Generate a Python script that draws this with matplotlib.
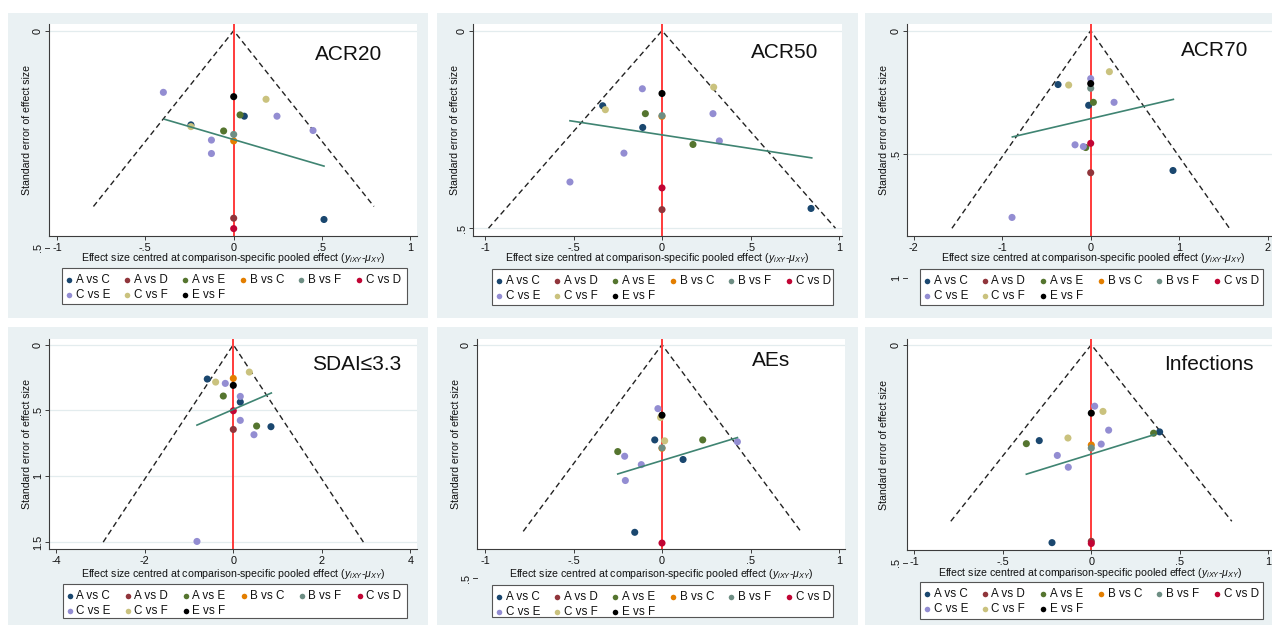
import matplotlib
matplotlib.use("Agg")
import matplotlib.pyplot as plt
from matplotlib.patches import Rectangle
from matplotlib.lines import Line2D
from matplotlib.ticker import FuncFormatter

plt.rcParams['font.family'] = ['Liberation Sans', 'DejaVu Sans']
plt.rcParams['mathtext.fontset'] = 'custom'
plt.rcParams['mathtext.rm'] = 'Liberation Sans'
plt.rcParams['mathtext.it'] = 'Liberation Sans:italic'

# comparisons and their colours (stata s2color-ish)
comparisons = ["A vs C", "A vs D", "A vs E", "B vs C", "B vs F", "C vs D", "C vs E", "C vs F", "E vs F"]
comp_colors = ["#1a476f", "#90353b", "#55752f", "#e37e00", "#6e8e84", "#c10534", "#938dd2", "#cac27e", "#000000"]

# ---- ACR20
acr20_cmp = ["C vs E", "E vs F", "C vs F", "A vs E", "A vs C", "C vs E", "A vs C", "C vs F", "A vs E",
             "C vs E", "B vs F", "B vs C", "C vs E", "C vs E", "A vs D", "C vs D", "A vs C"]
acr20_x = [-0.398, 0, 0.183, 0.036, 0.060, 0.245, -0.242, -0.242, -0.057, 0.449, 0, 0, -0.126, -0.126, 0, 0, 0.511]
acr20_se = [0.142, 0.152, 0.158, 0.194, 0.197, 0.197, 0.217, 0.221, 0.231, 0.230, 0.239, 0.254, 0.252, 0.283,
            0.432, 0.456, 0.435]
acr20_fit_x = [-0.392, 0.511]
acr20_fit_se = [0.204, 0.312]
acr20_funnel = 0.405

# ---- ACR50
acr50_cmp = ["C vs E", "C vs F", "E vs F", "A vs C", "C vs F", "A vs E", "B vs F", "B vs C", "C vs E", "A vs C",
             "C vs E", "A vs E", "C vs E", "C vs E", "C vs D", "A vs D", "A vs C"]
acr50_x = [-0.111, 0.292, 0, -0.335, -0.320, -0.094, 0, 0, 0.288, -0.109, 0.324, 0.175, -0.215, -0.520, 0, 0, 0.842]
acr50_se = [0.147, 0.143, 0.159, 0.190, 0.200, 0.210, 0.215, 0.217, 0.210, 0.245, 0.279, 0.288, 0.310, 0.383,
            0.398, 0.453, 0.450]
acr50_fit_x = [-0.520, 0.846]
acr50_fit_se = [0.228, 0.322]
acr50_funnel = 0.5

# ---- ACR70
acr70_cmp = ["C vs F", "C vs E", "A vs C", "C vs F", "E vs F", "B vs F", "A vs E", "A vs C", "C vs E", "C vs E",
             "C vs E", "A vs E", "C vs D", "A vs D", "A vs C", "C vs E"]
acr70_x = [0.211, 0, -0.369, -0.249, 0, 0, 0.03, -0.023, 0.264, -0.177, -0.083, -0.056, 0, 0, 0.930, -0.889]
acr70_se = [0.166, 0.194, 0.218, 0.220, 0.214, 0.233, 0.290, 0.302, 0.290, 0.462, 0.469, 0.473, 0.456, 0.575,
            0.566, 0.756]
acr70_fit_x = [-0.885, 0.934]
acr70_fit_se = [0.430, 0.278]
acr70_funnel = 0.8

# ---- SDAI<=3.3
sdai_cmp = ["C vs F", "B vs C", "A vs C", "C vs F", "C vs E", "E vs F", "A vs E", "C vs E", "A vs C", "C vs D",
            "C vs E", "A vs E", "A vs C", "A vs D", "C vs E", "C vs E"]
sdai_x = [0.362, 0, -0.588, -0.399, -0.181, 0, -0.226, 0.158, 0.158, 0, 0.158, 0.527, 0.851, 0, 0.467, -0.821]
sdai_se = [0.208, 0.256, 0.261, 0.284, 0.294, 0.309, 0.390, 0.393, 0.436, 0.502, 0.575, 0.618, 0.623, 0.644,
           0.684, 1.495]
sdai_fit_x = [-0.821, 0.859]
sdai_fit_se = [0.611, 0.367]
sdai_funnel = 1.5

# ---- AEs
aes_cmp = ["C vs E", "E vs F", "C vs F", "A vs C", "C vs F", "A vs E", "C vs E", "B vs F", "B vs C", "A vs E",
           "C vs E", "A vs C", "C vs E", "C vs E", "A vs C", "C vs D"]
aes_x = [-0.023, 0, -0.008, -0.041, 0.015, 0.230, 0.426, 0, 0, -0.250, -0.211, 0.119, -0.117, -0.207, -0.154, 0]
aes_se = [0.137, 0.151, 0.156, 0.204, 0.206, 0.204, 0.208, 0.221, 0.222, 0.229, 0.239, 0.246, 0.257, 0.291,
          0.402, 0.425]
aes_fit_x = [-0.250, 0.426]
aes_fit_se = [0.277, 0.199]
aes_funnel = 0.4

# ---- Infections
inf_cmp = ["C vs E", "E vs F", "C vs F", "C vs E", "A vs E", "A vs C", "A vs C", "A vs E", "C vs F", "B vs C",
           "C vs E", "B vs F", "C vs E", "C vs E", "A vs C", "A vs D", "C vs D"]
inf_x = [0.019, 0, 0.066, 0.098, 0.352, 0.386, -0.294, -0.367, -0.132, 0, 0.056, 0, -0.192, -0.130, -0.222, 0, 0]
inf_se = [0.141, 0.157, 0.153, 0.196, 0.203, 0.200, 0.220, 0.227, 0.214, 0.230, 0.228, 0.237, 0.254, 0.281,
          0.454, 0.451, 0.456]
inf_fit_x = [-0.367, 0.358]
inf_fit_se = [0.297, 0.206]
inf_funnel = 0.405

W, H = 1272, 625
BG = "#eaf1f3"
AXC = "#3c3c3c"
XLABEL = "Effect size centred at comparison-specific pooled effect ($y_{iXY}$-$\\mu_{XY}$)"


def fx(px):
    return px / W


def fy(py):
    return 1 - py / H


def stata_fmt(v, pos=None):
    if abs(v - round(v)) < 1e-9:
        return str(int(round(v)))
    s = f"{v:g}"
    return s.replace("0.", ".")


# layout: plot box (l, t, r, b) px, x origin px, px per unit x, y origin px, px per unit y
panels = [
    dict(title="ACR20", cmp=acr20_cmp, x=acr20_x, se=acr20_se, fx=acr20_fit_x, fse=acr20_fit_se, fun=acr20_funnel,
         box=(49, 24, 417, 236), x0=233.7, xs=176.7, y0=30.7, ys=434, xt=[-1, -.5, 0, .5, 1], yt=[0, .5],
         tpos=(349, 55), bg=(8, 13, 428, 318), leg=(62, 268, 407, 304), xlab_y=258, ylab_x=27),
    dict(title="ACR50", cmp=acr50_cmp, x=acr50_x, se=acr50_se, fx=acr50_fit_x, fse=acr50_fit_se, fun=acr50_funnel,
         box=(473, 24, 842, 236), x0=662, xs=177, y0=30.7, ys=395, xt=[-1, -.5, 0, .5, 1], yt=[0, .5],
         tpos=(785, 52), bg=(437, 13, 858, 318), leg=(492, 269, 833, 305), xlab_y=258, ylab_x=455),
    dict(title="ACR70", cmp=acr70_cmp, x=acr70_x, se=acr70_se, fx=acr70_fit_x, fse=acr70_fit_se, fun=acr70_funnel,
         box=(907, 24, 1280, 236), x0=1090.7, xs=88.5, y0=30.7, ys=247, xt=[-2, -1, 0, 1, 2], yt=[0, .5, 1],
         tpos=(1215, 50), bg=(865, 13, 1272, 318), leg=(920, 269, 1263, 305), xlab_y=258, ylab_x=884),
    dict(title="SDAI≤3.3", cmp=sdai_cmp, x=sdai_x, se=sdai_se, fx=sdai_fit_x, fse=sdai_fit_se, fun=sdai_funnel,
         box=(49, 339, 417, 549), x0=233.3, xs=44.25, y0=344.7, ys=131.6, xt=[-4, -2, 0, 2, 4],
         yt=[0, .5, 1, 1.5], tpos=(357, 365), bg=(8, 327, 428, 625), leg=(63, 584, 407, 618), xlab_y=574,
         ylab_x=27),
    dict(title="AEs", cmp=aes_cmp, x=aes_x, se=aes_se, fx=aes_fit_x, fse=aes_fit_se, fun=aes_funnel,
         box=(477, 339, 845, 549), x0=662, xs=177, y0=344.7, ys=466.7, xt=[-1, -.5, 0, .5, 1], yt=[0, .5],
         tpos=(771, 361), bg=(437, 327, 858, 625), leg=(492, 585, 833, 617), xlab_y=574, ylab_x=456),
    dict(title="Infections", cmp=inf_cmp, x=inf_x, se=inf_se, fx=inf_fit_x, fse=inf_fit_se, fun=inf_funnel,
         box=(907, 339, 1273, 550), x0=1091.3, xs=177, y0=344.7, ys=436, xt=[-1, -.5, 0, .5, 1], yt=[0, .5],
         tpos=(1209, 364), bg=(865, 327, 1272, 625), leg=(920, 582, 1263, 619), xlab_y=573, ylab_x=884),
]

fig = plt.figure(figsize=(W / 100, H / 100), dpi=100)
fig.patch.set_facecolor("white")

for p in panels:
    bl, bt, br, bb = p["bg"]
    fig.add_artist(Rectangle((fx(bl), fy(bb)), (br - bl) / W, (bb - bt) / H, transform=fig.transFigure,
                             facecolor=BG, edgecolor="none", zorder=-2))

    l, t, r, b = p["box"]
    wpx, hpx = r - l, b - t
    ax = fig.add_axes([fx(l), fy(b), wpx / W, hpx / H])
    ax.set_facecolor("white")
    ax.set_xlim((l - p["x0"]) / p["xs"], (r - p["x0"]) / p["xs"])
    ybot = (b - p["y0"]) / p["ys"]
    ax.set_ylim(ybot, (t - p["y0"]) / p["ys"])

    for s in ["top", "right"]:
        ax.spines[s].set_visible(False)
    for s in ["left", "bottom"]:
        ax.spines[s].set_color(AXC)
        ax.spines[s].set_linewidth(0.8)

    ax.set_xticks(p["xt"])
    inside = [v for v in p["yt"] if v <= ybot]
    ax.set_yticks(inside)
    ax.xaxis.set_major_formatter(FuncFormatter(stata_fmt))
    ax.yaxis.set_major_formatter(FuncFormatter(stata_fmt))
    ax.tick_params(axis="both", direction="out", length=3, width=0.7, color=AXC, labelsize=7.8,
                   labelcolor="#111111")
    ax.tick_params(axis="x", pad=2)
    ax.tick_params(axis="y", pad=1.5, labelrotation=90)
    for lab in ax.get_yticklabels():
        lab.set_va("center")
    ax.grid(axis="y", color="#e3ecee", lw=0.9)
    ax.set_axisbelow(True)

    # y ticks that fall below the plot region (Stata draws them anyway)
    for v in p["yt"]:
        if v > ybot:
            ax.plot([-4 / wpx, 0], [v, v], transform=ax.get_yaxis_transform(), clip_on=False,
                    color=AXC, lw=0.7)
            ax.text(-6 / wpx, v, stata_fmt(v), transform=ax.get_yaxis_transform(), rotation=90,
                    ha="right", va="center", fontsize=7.8, color="#111111", clip_on=False)

    ax.set_xlabel(XLABEL, fontsize=7.6, color="#111111")
    ax.xaxis.set_label_coords(0.5, -(p["xlab_y"] - b) / hpx)
    ax.xaxis.label.set_va("center")
    ax.set_ylabel("Standard error of effect size", fontsize=7.6, color="#111111")
    ax.yaxis.set_label_coords(-(l - p["ylab_x"]) / wpx, 0.5)
    ax.yaxis.label.set_va("center")

    # funnel
    fmax = p["fun"]
    ax.plot([-1.96 * fmax, 0, 1.96 * fmax], [fmax, 0, fmax], color="#222222", lw=1.0,
            dashes=(4, 2.6), zorder=2)
    ax.axvline(0, color="#ff3b3b", lw=1.4, zorder=2)

    for name, col in zip(comparisons, comp_colors):
        xs = [xv for c, xv in zip(p["cmp"], p["x"]) if c == name]
        ys = [sv for c, sv in zip(p["cmp"], p["se"]) if c == name]
        if xs:
            ax.scatter(xs, ys, s=26, color=col, edgecolors="none", zorder=3)

    ax.plot(p["fx"], p["fse"], color="#3f8472", lw=1.2, zorder=4)

    tx, ty = p["tpos"]
    fig.text(fx(tx), fy(ty), p["title"], fontsize=15, ha="center", va="center", color="#111111")

    # legend box
    ll, lt, lr, lb = p["leg"]
    fig.add_artist(Rectangle((fx(ll), fy(lb)), (lr - ll) / W, (lb - lt) / H, transform=fig.transFigure,
                             facecolor="white", edgecolor="#555555", lw=0.8, zorder=1))
    for i, (name, col) in enumerate(zip(comparisons, comp_colors)):
        row, colno = divmod(i, 6)
        mx = ll + 7 + colno * 58
        my = lt + 12 + row * 15
        fig.add_artist(Line2D([fx(mx)], [fy(my)], transform=fig.transFigure, marker="o", markersize=4,
                              color=col, markeredgewidth=0, linestyle="none", zorder=2))
        fig.text(fx(mx + 6.5), fy(my), name, fontsize=8.4, ha="left", va="center", color="#111111", zorder=2)

fig.savefig("out.png", dpi=100, facecolor="white")
